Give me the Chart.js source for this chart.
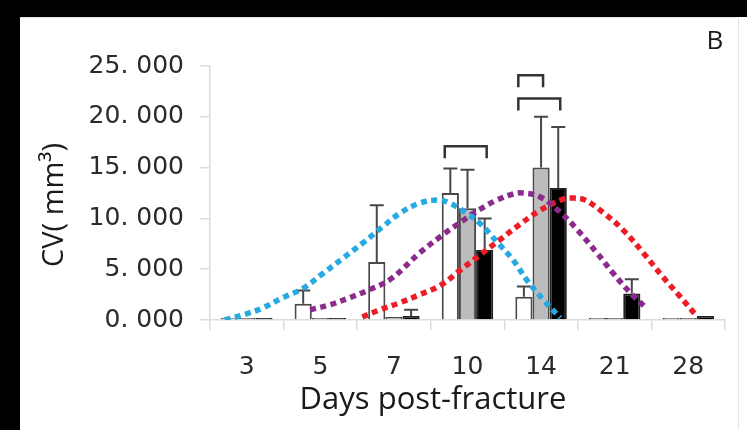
<!DOCTYPE html>
<html lang="en">
<head>
<meta charset="UTF-8">
<title>CV - days post-fracture</title>
<script src="https://cdn.jsdelivr.net/npm/chart.js"></script>
<style>
  html, body { margin: 0; padding: 0; background: #000; }
  #wrap { position: absolute; left: 0; top: 0; width: 747px; height: 430px; }
</style>
</head>
<body>
<div id="wrap"><canvas id="cvChart"></canvas></div>
<script>
// categories
const days = ['3', '5', '7', '10', '14', '21', '28'];

// bar means (x 1000 mm3) and their error (sd)
const openBars  = [0, 1.6, 5.7, 12.5, 2.3, 0, 0];
const openErr   = [0, 1.3, 5.6, 2.4, 1.0, 0, 0];
const grayBars  = [0, 0, 0.3, 11.0, 15.0, 0, 0];
const grayErr   = [0, 0, 0, 3.8, 5.0, 0, 0];
const blackBars = [0, 0, 0.4, 6.9, 13.0, 2.6, 0.4];
const blackErr  = [0, 0, 0.6, 3.1, 6.0, 1.4, 0];

const yTicks = [0, 5, 10, 15, 20, 25];

// dotted trend curves, x in category index units (0 = "3", 1 = "5", ...)
const blueCurve = [
  {x: -0.30, y: 0}, {x: -0.05, y: 0.5}, {x: 0.22, y: 1.2}, {x: 0.49, y: 2.2},
  {x: 0.76, y: 3.1}, {x: 1.04, y: 4.6}, {x: 1.31, y: 6.1}, {x: 1.58, y: 7.6},
  {x: 1.85, y: 9.2}, {x: 2.08, y: 10.5}, {x: 2.35, y: 11.5}, {x: 2.59, y: 11.8},
  {x: 2.76, y: 11.5}, {x: 2.99, y: 10.5}, {x: 3.17, y: 9.5}, {x: 3.40, y: 7.7},
  {x: 3.62, y: 5.9}, {x: 3.81, y: 3.9}, {x: 4.03, y: 2.0}, {x: 4.26, y: 0.2}
];
const purpleCurve = [
  {x: 0.86, y: 1.0}, {x: 1.13, y: 1.5}, {x: 1.40, y: 2.2}, {x: 1.67, y: 3.0},
  {x: 1.95, y: 4.0}, {x: 2.35, y: 6.6}, {x: 2.63, y: 8.2}, {x: 2.90, y: 9.6},
  {x: 3.17, y: 10.9}, {x: 3.40, y: 11.8}, {x: 3.62, y: 12.4}, {x: 3.75, y: 12.5},
  {x: 3.99, y: 12.1}, {x: 4.26, y: 10.6}, {x: 4.49, y: 8.9}, {x: 4.76, y: 6.6},
  {x: 4.98, y: 4.6}, {x: 5.21, y: 2.7}, {x: 5.41, y: 1.3}
];
const redCurve = [
  {x: 1.57, y: 0.3}, {x: 1.81, y: 1.0}, {x: 2.08, y: 1.7}, {x: 2.35, y: 2.5},
  {x: 2.63, y: 3.4}, {x: 2.90, y: 4.9}, {x: 3.17, y: 6.4}, {x: 3.44, y: 7.9},
  {x: 3.71, y: 9.4}, {x: 3.99, y: 10.8}, {x: 4.30, y: 11.9}, {x: 4.45, y: 12.0},
  {x: 4.60, y: 11.8}, {x: 4.84, y: 10.6}, {x: 5.11, y: 8.9}, {x: 5.39, y: 6.6},
  {x: 5.66, y: 4.2}, {x: 5.89, y: 2.3}, {x: 6.09, y: 0.6}
];

// significance brackets: category index, from/to dataset, height (value)
const brackets = [
  {cat: 3, from: 0, to: 2, y: 17.1},
  {cat: 4, from: 0, to: 2, y: 21.8},
  {cat: 4, from: 0, to: 1, y: 24.1}
];

const errors = [openErr, grayErr, blackErr];
const FONT = "'Open Sans', 'DejaVu Sans', sans-serif";
const TICK_FONT = "'DejaVu Sans', sans-serif";

const panelBg = {
  id: 'panelBg',
  beforeDraw(chart) {
    const ctx = chart.ctx;
    ctx.save();
    ctx.fillStyle = '#000';
    ctx.fillRect(0, 0, chart.width, chart.height);
    ctx.fillStyle = '#fff';
    ctx.fillRect(20, 17, chart.width - 20, chart.height - 17);
    ctx.strokeStyle = '#e4e4e4';
    ctx.lineWidth = 1;
    ctx.beginPath();
    ctx.moveTo(20, 17.5); ctx.lineTo(738.5, 17.5); ctx.lineTo(738.5, chart.height);
    ctx.stroke();
    ctx.restore();
  }
};

const errorBars = {
  id: 'errorBars',
  afterDatasetDraw(chart, args) {
    const errs = errors[args.index];
    if (!errs) return;
    const ctx = chart.ctx;
    const y = chart.scales.y;
    const meta = chart.getDatasetMeta(args.index);
    ctx.save();
    ctx.strokeStyle = '#474747';
    ctx.lineWidth = 2;
    meta.data.forEach((bar, i) => {
      if (!errs[i]) return;
      const top = y.getPixelForValue(chart.data.datasets[args.index].data[i] + errs[i]);
      ctx.beginPath();
      ctx.moveTo(bar.x, bar.y);
      ctx.lineTo(bar.x, top);
      ctx.moveTo(bar.x - 7, top);
      ctx.lineTo(bar.x + 7, top);
      ctx.stroke();
    });
    ctx.restore();
  },
  afterDatasetsDraw(chart) {
    const ctx = chart.ctx;
    const y = chart.scales.y;
    ctx.save();
    ctx.strokeStyle = '#333';
    ctx.lineWidth = 2.5;
    brackets.forEach(b => {
      const a = chart.getDatasetMeta(b.from).data[b.cat];
      const c = chart.getDatasetMeta(b.to).data[b.cat];
      const x1 = a.x - a.width / 2 + 3;
      const x2 = c.x + 2;
      const py = y.getPixelForValue(b.y);
      ctx.beginPath();
      ctx.moveTo(x1, py + 12);
      ctx.lineTo(x1, py);
      ctx.lineTo(x2, py);
      ctx.lineTo(x2, py + 12);
      ctx.stroke();
    });
    ctx.restore();
  }
};

const titles = {
  id: 'titles',
  afterDraw(chart) {
    const ctx = chart.ctx;
    ctx.save();
    ctx.fillStyle = '#1a1a1a';
    ctx.textAlign = 'center';
    ctx.textBaseline = 'middle';
    ctx.font = '26px ' + FONT;
    ctx.fillText('B', 715, 42);
    ctx.font = '31px ' + FONT;
    ctx.fillText('Days post-fracture', 433, 400);
    ctx.translate(55, 205);
    ctx.rotate(-Math.PI / 2);
    ctx.font = '29px ' + FONT;
    ctx.fillText('CV( mm\u00b3)', 0, 0);
    ctx.restore();
  }
};

const barStyle = {
  borderWidth: 2,
  borderSkipped: 'start',
  categoryPercentage: 0.7,
  barPercentage: 1.0,
  minBarLength: 2,
  order: 1
};
const curveStyle = {
  type: 'line',
  parsing: false,
  borderWidth: 5.5,
  borderDash: [6, 4.5],
  pointRadius: 0,
  tension: 0.4,
  fill: false,
  order: 0
};

new Chart(document.getElementById('cvChart'), {
  type: 'bar',
  data: {
    labels: days,
    datasets: [
      Object.assign({ data: openBars, backgroundColor: '#fff', borderColor: '#4a4a4a' }, barStyle),
      Object.assign({ data: grayBars, backgroundColor: '#bcbcbc', borderColor: '#4a4a4a' }, barStyle),
      Object.assign({ data: blackBars, backgroundColor: '#000', borderColor: '#222' }, barStyle),
      Object.assign({ data: blueCurve, borderColor: '#27aae1' }, curveStyle),
      Object.assign({ data: purpleCurve, borderColor: '#8c2a8e' }, curveStyle),
      Object.assign({ data: redCurve, borderColor: '#ee1c25' }, curveStyle)
    ]
  },
  options: {
    responsive: true,
    maintainAspectRatio: false,
    animation: false,
    layout: { padding: { top: 66, right: 22, left: 0, bottom: 0 } },
    plugins: {
      legend: { display: false },
      tooltip: { enabled: false }
    },
    scales: {
      x: {
        grid: { drawOnChartArea: false, color: '#dcdcdc', tickLength: 10, lineWidth: 1.5 },
        border: { color: '#dcdcdc', width: 1.5 },
        ticks: { color: '#2a2a2a', font: { family: TICK_FONT, size: 25 }, padding: 22 },
        afterFit(scale) { scale.height = 110; }
      },
      y: {
        min: 0,
        max: 25,
        afterBuildTicks(scale) { scale.ticks = yTicks.map(v => ({ value: v })); },
        grid: { drawOnChartArea: false, color: '#dcdcdc', tickLength: 10, lineWidth: 1.5 },
        border: { color: '#dcdcdc', width: 1.5 },
        ticks: {
          color: '#2a2a2a',
          font: { family: TICK_FONT, size: 25 },
          padding: 16,
          callback: v => v.toFixed(3).replace('.', '. ')
        },
        afterFit(scale) { scale.width = 210; }
      }
    }
  },
  plugins: [panelBg, errorBars, titles]
});
</script>
</body>
</html>
